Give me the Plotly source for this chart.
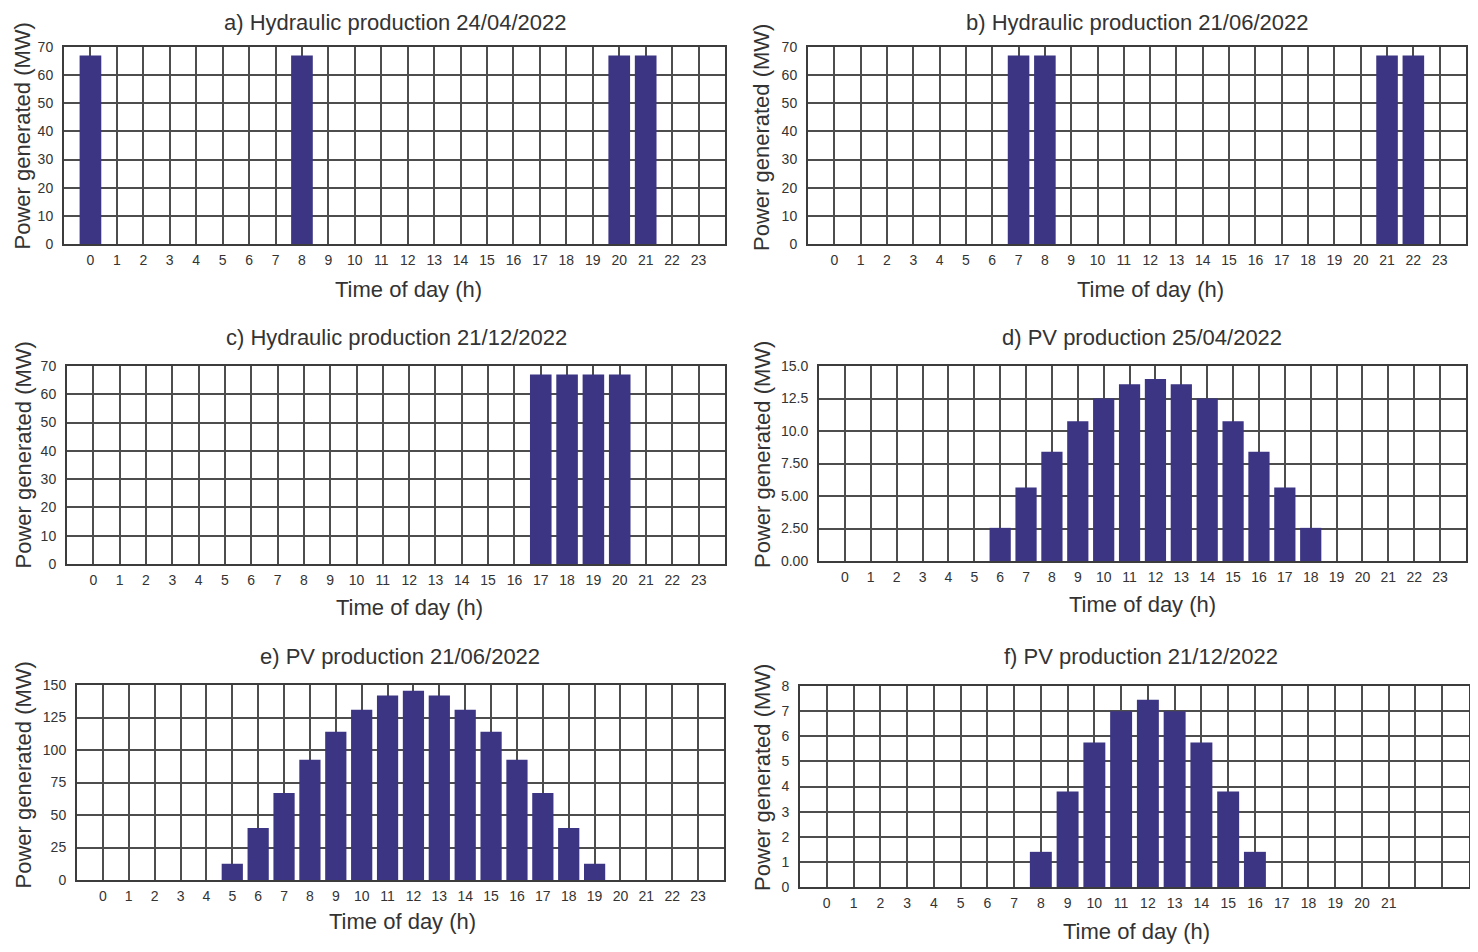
import plotly.graph_objects as go

# The page body has an 8px margin, so the figure is drawn 16px smaller and
# all reference pixel positions are shifted by OFF.
OFF = 8
W, H = 1478 - 2 * OFF, 952 - 2 * OFF

hours = list(range(24))
hour_labels = [str(h) for h in hours]
hour_labels_f = [str(h) for h in range(22)] + ["", ""]

hydro_apr = [67 if h in (0, 8, 20, 21) else 0 for h in hours]
hydro_jun = [67 if h in (7, 8, 21, 22) else 0 for h in hours]
hydro_dec = [67 if h in (17, 18, 19, 20) else 0 for h in hours]
pv_apr = [0]*6 + [2.55, 5.65, 8.4, 10.75, 12.5, 13.6, 14.0, 13.6, 12.5, 10.75, 8.4, 5.65, 2.55] + [0]*5
pv_jun = [0]*5 + [12.5, 40, 67, 92.5, 114, 131, 142, 145.5, 142, 131, 114, 92.5, 67, 40, 12.5] + [0]*4
pv_dec = [0]*8 + [1.4, 3.8, 5.75, 7.0, 7.45, 7.0, 5.75, 3.8, 1.4] + [0]*7

titles = ["a) Hydraulic production 24/04/2022", "b) Hydraulic production 21/06/2022",
          "c) Hydraulic production 21/12/2022", "d) PV production 25/04/2022",
          "e) PV production 21/06/2022", "f) PV production 21/12/2022"]
series = [hydro_apr, hydro_jun, hydro_dec, pv_apr, pv_jun, pv_dec]

y_ticks_hydro = [0, 10, 20, 30, 40, 50, 60, 70]
y_ticks_pv_apr = [0, 2.5, 5, 7.5, 10, 12.5, 15]
y_ticks_pv_apr_text = ["0.00", "2.50", "5.00", "7.50", "10.0", "12.5", "15.0"]
y_ticks_pv_jun = [0, 25, 50, 75, 100, 125, 150]
y_ticks_pv_dec = [0, 1, 2, 3, 4, 5, 6, 7, 8]

yticks = [(y_ticks_hydro, None), (y_ticks_hydro, None), (y_ticks_hydro, None),
          (y_ticks_pv_apr, y_ticks_pv_apr_text), (y_ticks_pv_jun, None), (y_ticks_pv_dec, None)]
yranges = [[0, 70], [0, 70], [0, 70], [0, 15], [0, 150], [0, 8]]
xticktexts = [hour_labels]*5 + [hour_labels_f]

# plot boxes in screen pixels: x0, x1, y0 (top), y1 (bottom)
boxes = [(64, 725, 47, 244), (808, 1466, 47, 244),
         (67, 725, 366, 564), (819, 1466, 366, 561),
         (77, 724, 685, 880), (800, 1469, 686, 887)]
title_pos = [(395, 17), (1137, 17), (396, 337), (1142, 337), (400, 656), (1141, 656)]
xtitle_pos = [(408, 289), (1150, 289), (409, 607), (1142, 604), (402, 921), (1136, 931)]
ytitle_pos = [(18, 136), (762, 138), (20, 455), (762, 455), (18, 775), (762, 778)]

BAR = "#3b3584"
GRID = "#4d4d4d"
FONT = "Liberation Sans"

def px(x):
    return (x - OFF) / W

def py(y):
    return 1 - (y - OFF) / H

fig = go.Figure()
annotations = []
for i in range(6):
    n = i + 1
    xa = "x" if n == 1 else f"x{n}"
    ya = "y" if n == 1 else f"y{n}"
    fig.add_trace(go.Bar(x=hours, y=series[i], width=0.82, xaxis=xa, yaxis=ya,
                         marker=dict(color=BAR, line=dict(width=0)),
                         showlegend=False))
    x0, x1, y0, y1 = boxes[i]
    tv, tt = yticks[i]
    xkey = "xaxis" if n == 1 else f"xaxis{n}"
    ykey = "yaxis" if n == 1 else f"yaxis{n}"
    fig.layout[xkey] = dict(domain=[px(x0), px(x1)], anchor=ya, range=[-1, 24],
                            tickvals=hours, ticktext=xticktexts[i], showgrid=True,
                            gridcolor=GRID, gridwidth=1.5, showline=True, linecolor="#3c3c3c",
                            linewidth=2, mirror=True, ticks="", ticklabelstandoff=2,
                            zeroline=False, automargin=False,
                            tickfont=dict(family=FONT, size=14, color="#333"))
    fig.layout[ykey] = dict(domain=[py(y1), py(y0)], anchor=xa, range=yranges[i],
                            tickvals=tv, ticktext=tt if tt else [str(v) for v in tv],
                            showgrid=True, gridcolor=GRID, gridwidth=1.5, showline=True,
                            linecolor="#3c3c3c", linewidth=2, mirror=True, ticks="",
                            ticklabelstandoff=6, zeroline=False, automargin=False,
                            tickfont=dict(family=FONT, size=14, color="#333"))
    top_row = title_pos[i][1] < 100
    annotations.append(dict(text=titles[i], x=px(title_pos[i][0]),
                            y=1 if top_row else py(title_pos[i][1]),
                            xref="paper", yref="paper", showarrow=False,
                            xanchor="center", yanchor="top" if top_row else "middle",
                            font=dict(family=FONT, size=22, color="#333")))
    annotations.append(dict(text="Time of day (h)", x=px(xtitle_pos[i][0]), y=py(xtitle_pos[i][1]),
                            xref="paper", yref="paper", showarrow=False,
                            xanchor="center", yanchor="middle",
                            font=dict(family=FONT, size=22, color="#333")))
    left_col = ytitle_pos[i][0] < 100
    annotations.append(dict(text="Power generated (MW)",
                            x=0 if left_col else px(ytitle_pos[i][0]), y=py(ytitle_pos[i][1]),
                            xref="paper", yref="paper", showarrow=False, textangle=-90,
                            xanchor="left" if left_col else "center", yanchor="middle",
                            font=dict(family=FONT, size=22, color="#333")))

fig.update_layout(width=W, height=H, margin=dict(l=0, r=0, t=0, b=0, autoexpand=False),
                  paper_bgcolor="white", plot_bgcolor="white",
                  annotations=annotations, bargap=0.2)

fig.write_html("out.html")
